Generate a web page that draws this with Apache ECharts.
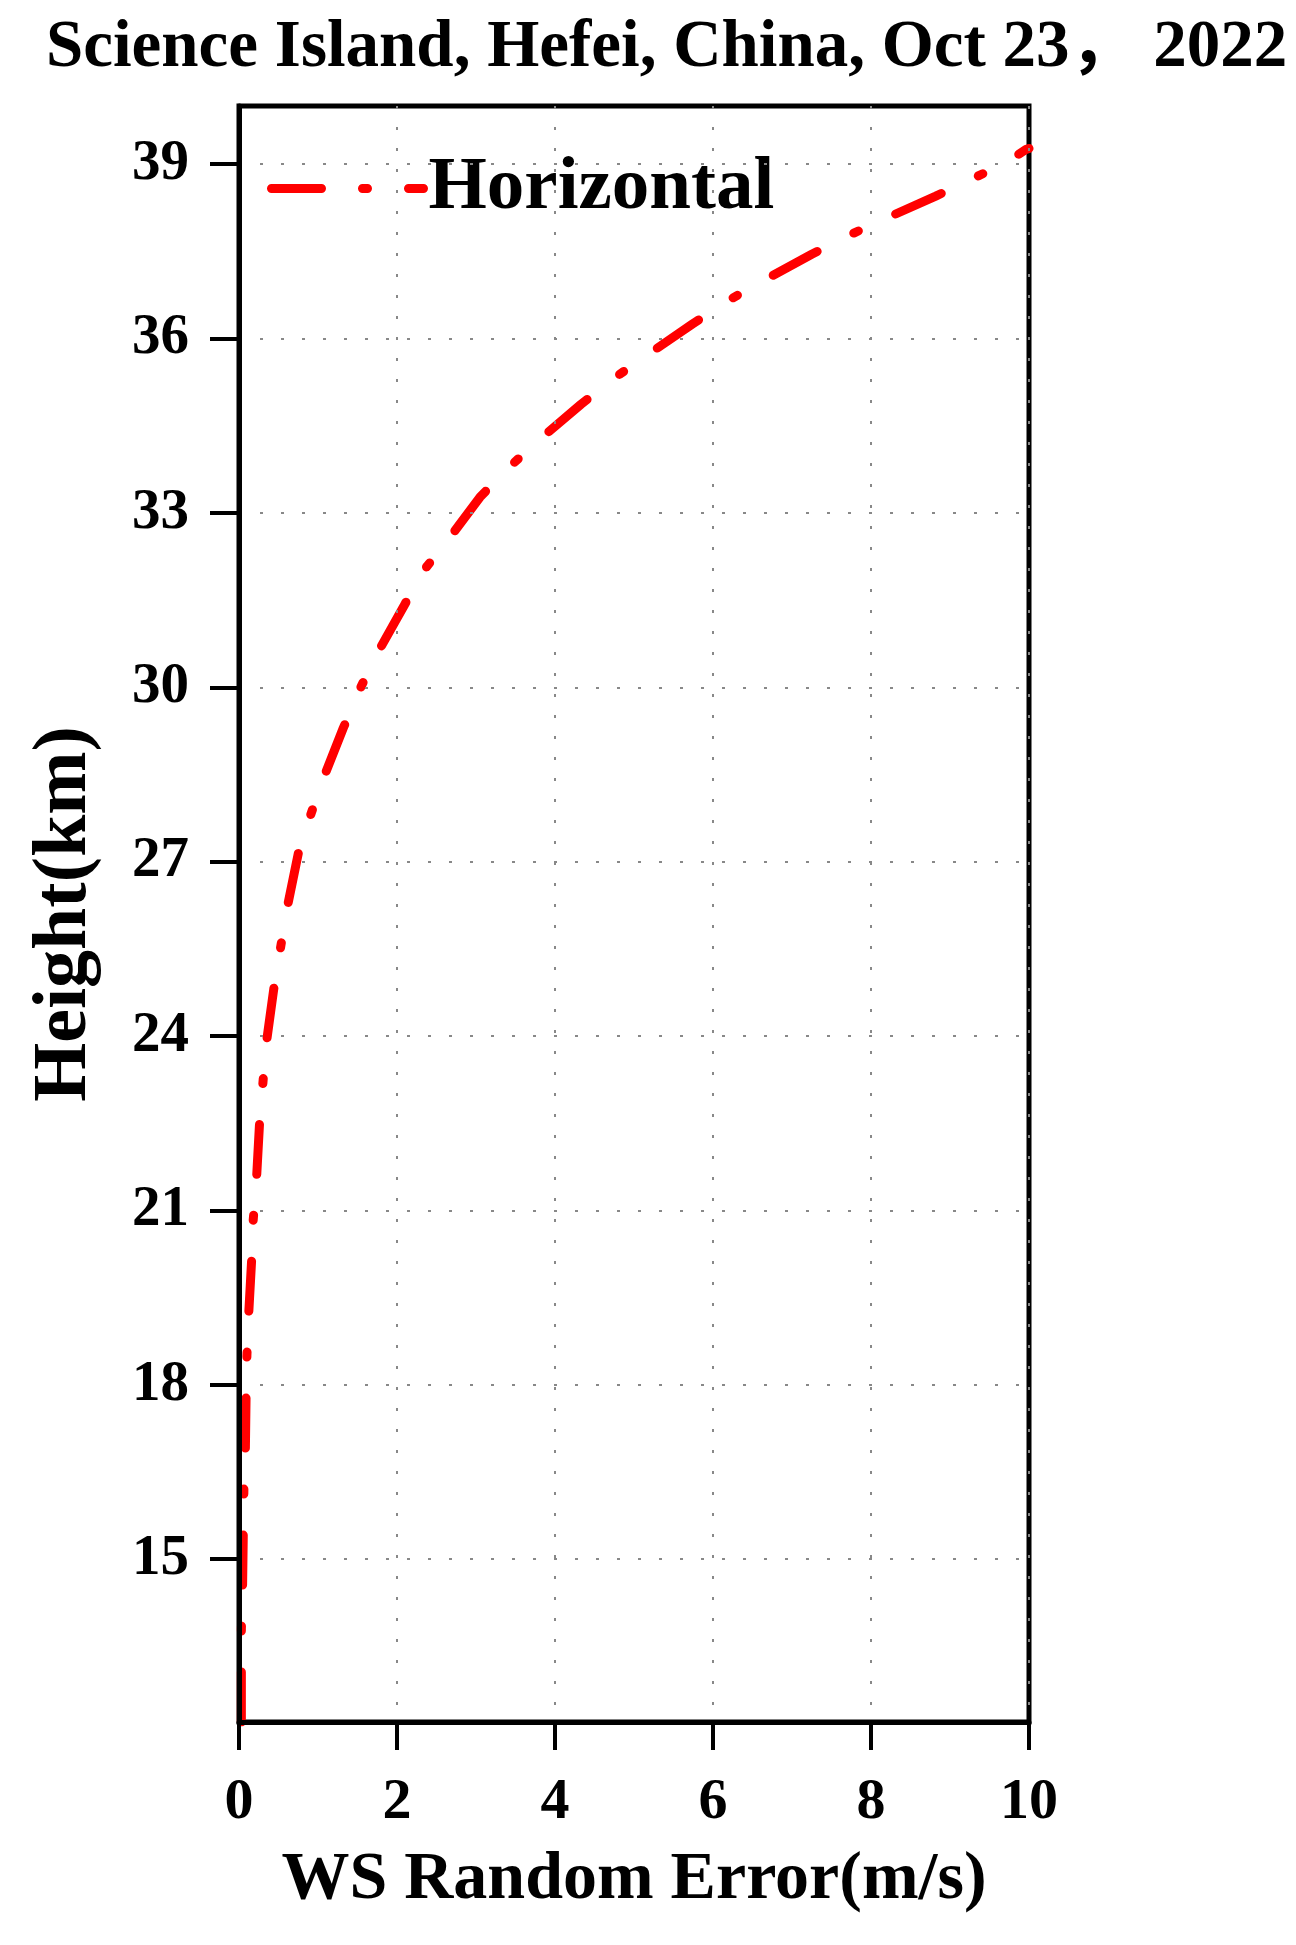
<!DOCTYPE html>
<html>
<head>
<meta charset="utf-8">
<title>WS Random Error</title>
<script src="https://cdn.jsdelivr.net/npm/echarts@6/dist/echarts.min.js"></script>
<style>
    html, body{
        margin: 0;
        padding: 0;
        background: #fff;
    }
    #chart{
        width: 1296px;
        height: 1945px;
    }
</style>
</head>
<body>
<div id="chart"></div>
<script>
// values
var heightKm = [12.2, 13.8, 14.5, 15.5, 16.5, 16.8, 17.85, 18.5, 19.15, 20.15, 20.84, 21.5, 22.5, 23.15, 23.82,
    24.81, 25.47, 26.14, 27.14, 27.74, 28.37, 29.3, 29.91, 30.51, 31.38, 31.98, 32.49, 33.27, 33.75,
    34.21, 34.87, 35.28, 35.7, 36.25, 36.62, 36.96, 37.45, 37.75, 38.05, 38.45, 38.74, 39.02, 39.25, 39.27];
var horizontalErr = [0.03, 0.03, 0.045, 0.055, 0.065, 0.08, 0.09, 0.1, 0.12, 0.16, 0.18, 0.22, 0.26, 0.3, 0.34,
    0.44, 0.52, 0.6, 0.75, 0.89, 1.05, 1.32, 1.51, 1.72, 2.08, 2.32, 2.62, 3.05, 3.39,
    3.76, 4.33, 4.71, 5.15, 5.74, 6.15, 6.59, 7.25, 7.68, 8.16, 8.82, 9.27, 9.7, 9.96, 10.0];
var heightTicks = [15, 18, 21, 24, 27, 30, 33, 36, 39];

var serif = "'Liberation Serif', 'Noto Sans CJK SC', 'Times New Roman', serif";
var dashDot = [50, 41, 5, 41];

var points = [];
for (var i = 0; i < heightKm.length; i++) {
    points.push([horizontalErr[i], heightKm[i]]);
}

var myChart = echarts.init(document.getElementById('chart'));
var option = {
    backgroundColor: '#fff',
    animation: false,
    title: {
        text: 'Science Island, Hefei, China, Oct 23， 2022',
        left: 41,
        top: 10,
        textStyle: {
            fontFamily: serif,
            fontWeight: 'bold',
            fontSize: 67,
            color: '#000'
        }
    },
    legend: {
        left: 262,
        top: 146,
        itemWidth: 152,
        itemHeight: 30,
        textStyle: {
            fontFamily: serif,
            fontWeight: 'bold',
            fontSize: 75,
            color: '#000'
        },
        itemStyle: { opacity: 0 },
        lineStyle: {
            color: '#ff0000',
            width: 9,
            cap: 'round',
            type: dashDot
        },
        data: ['Horizontal']
    },
    grid: {
        left: 239,
        right: 267,
        top: 106,
        bottom: 223,
        show: true,
        borderColor: '#000',
        borderWidth: 5,
        backgroundColor: 'transparent'
    },
    xAxis: {
        type: 'value',
        min: 0,
        max: 10,
        interval: 2,
        z: 5,
        name: 'WS Random Error(m/s)',
        nameLocation: 'middle',
        nameGap: 124,
        nameTextStyle: {
            fontFamily: serif,
            fontWeight: 'bold',
            fontSize: 68,
            color: '#000'
        },
        axisLine: { lineStyle: { color: '#000', width: 5 } },
        axisTick: { show: true, inside: false, length: 28, lineStyle: { color: '#000', width: 4 } },
        axisLabel: {
            margin: 52,
            fontFamily: serif,
            fontWeight: 'bold',
            fontSize: 58,
            color: '#000'
        },
        splitLine: { show: true, lineStyle: { color: '#888', width: 2, type: [3, 18] } }
    },
    yAxis: {
        type: 'value',
        min: 12.2,
        max: 40,
        z: 5,
        name: 'Height(km)',
        nameLocation: 'middle',
        nameGap: 136,
        nameTextStyle: {
            fontFamily: serif,
            fontWeight: 'bold',
            fontSize: 76,
            color: '#000'
        },
        axisLine: { lineStyle: { color: '#000', width: 5 } },
        axisTick: { show: true, inside: false, length: 29, customValues: heightTicks, lineStyle: { color: '#000', width: 4 } },
        axisLabel: {
            margin: 50,
            customValues: heightTicks,
            fontFamily: serif,
            fontWeight: 'bold',
            fontSize: 57,
            color: '#000'
        },
        splitLine: { show: true, lineStyle: { color: '#888', width: 2, type: [3, 18] } }
    },
    series: [
        {
            name: 'Horizontal',
            type: 'line',
            symbol: 'none',
            smooth: false,
            clip: true,
            z: 3,
            lineStyle: {
                color: '#ff0000',
                width: 9,
                cap: 'round',
                type: dashDot
            },
            itemStyle: { color: '#ff0000' },
            data: points
        }
    ]
};
myChart.setOption(option);
</script>
</body>
</html>
